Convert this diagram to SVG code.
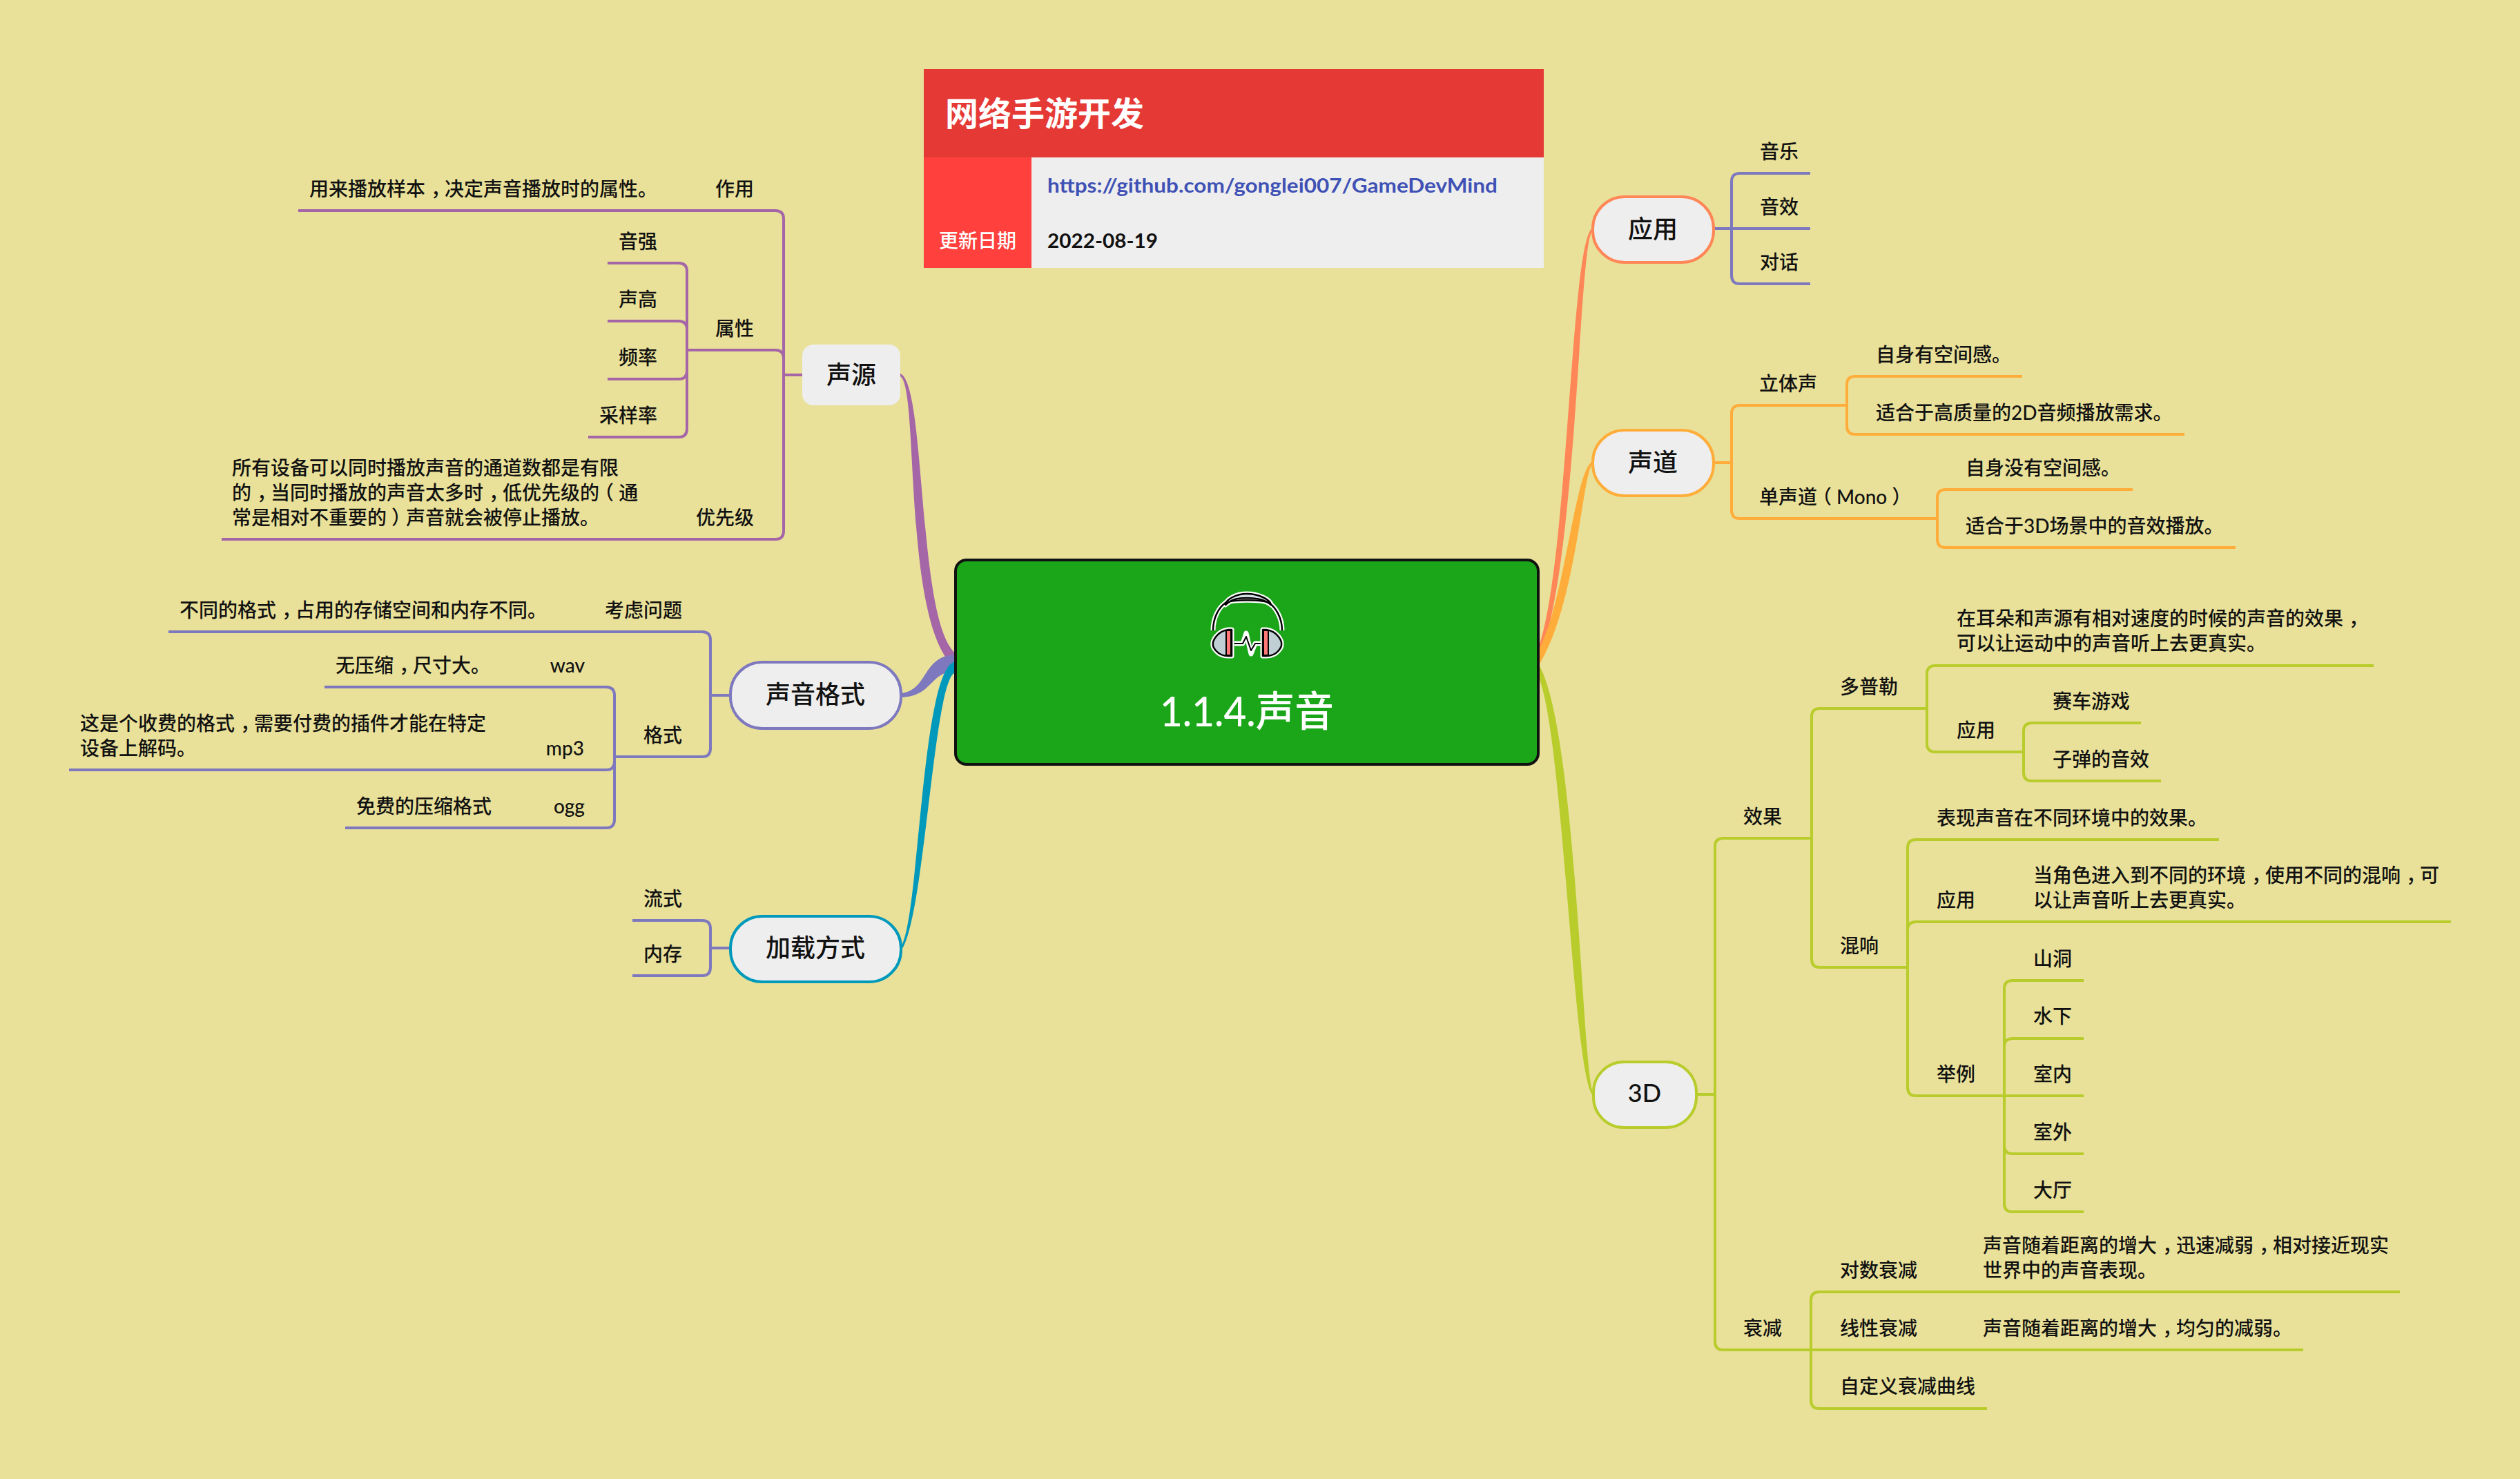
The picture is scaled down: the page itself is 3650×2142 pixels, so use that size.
<svg xmlns="http://www.w3.org/2000/svg" width="3650" height="2142" viewBox="0 0 3650 2142">
<style>
text{font-family:"Lato","Noto Sans CJK SC",sans-serif;fill:#111;font-size:28px;font-weight:500}
.n{font-size:36px;text-anchor:middle}
.r{text-anchor:end}
.w{fill:#fff}
.box{fill:#eee;stroke-width:4}
.l{fill:none;stroke-width:4;stroke-linecap:butt}
.vi{stroke:#7e78bf}.pu{stroke:#a566a8}.am{stroke:#ffad3a}.li{stroke:#b8cc2c}
</style>
<rect width="3650" height="2142" fill="#e9e199"/>
<g id="connectors">
<path fill="#a566a8" d="M1304 541C1342 556 1328 900 1384 946V968C1306 905 1332 562 1304 545Z"/>
<path fill="#7e78bf" d="M1305 1004C1345 1000 1335 950 1384 948V972C1345 974 1352 1008 1305 1010Z"/>
<path fill="#0099bb" d="M1305 1371C1332 1330 1334 966 1384 958V974C1352 980 1340 1330 1305 1377Z"/>
<path fill="#ff8657" d="M2307 330C2274 345 2272 830 2226 944V962C2286 830 2286 345 2307 334Z"/>
<path fill="#ffad3a" d="M2307 668C2280 680 2266 880 2226 946V968C2284 880 2292 680 2307 672Z"/>
<path fill="#b8cc2c" d="M2308 1583C2292 1570 2284 1040 2226 958V976C2264 1040 2278 1570 2308 1587Z"/>
<g class="l pu">
<path d="M432 305H1123Q1135 305 1135 317V769Q1135 781 1123 781H321"/>
<path d="M995 507H1123Q1135 507 1135 519"/>
<path d="M1135 543H1162"/>
<path d="M880 381H983Q995 381 995 393V621Q995 633 983 633H852"/>
<path d="M880 465H983Q995 465 995 477"/>
<path d="M880 549H983Q995 549 995 537"/>
</g>
<g class="l vi">
<path d="M244 915H1017Q1029 915 1029 927V1084Q1029 1096 1017 1096H890"/>
<path d="M1029 1007H1058"/>
<path d="M470 995H878Q890 995 890 1007V1187Q890 1199 878 1199H500"/>
<path d="M100 1115H878Q890 1115 890 1103"/>
<path d="M916 1333H1017Q1029 1333 1029 1345V1401Q1029 1413 1017 1413H916"/>
<path d="M1029 1373H1058"/>
<path d="M2622 251H2520Q2508 251 2508 263V399Q2508 411 2520 411H2622"/>
<path d="M2482 331H2622"/>
</g>
<g class="l am">
<path d="M2482 670H2508"/>
<path d="M2675 587H2520Q2508 587 2508 599V739Q2508 751 2520 751H2806"/>
<path d="M2929 545H2687Q2675 545 2675 557V617Q2675 629 2687 629H3164"/>
<path d="M3089 709H2818Q2806 709 2806 721V781Q2806 793 2818 793H3238"/>
</g>
<g class="l li">
<path d="M2457 1585H2484"/>
<path d="M2624 1214H2496Q2484 1214 2484 1226V1943Q2484 1955 2496 1955H2623"/>
<path d="M2791 1026H2636Q2624 1026 2624 1038V1389Q2624 1401 2636 1401H2763"/>
<path d="M3438 964H2803Q2791 964 2791 976V1077Q2791 1089 2803 1089H2931"/>
<path d="M3101 1047H2943Q2931 1047 2931 1059V1119Q2931 1131 2943 1131H3130"/>
<path d="M3214 1216H2775Q2763 1216 2763 1228V1575Q2763 1587 2775 1587H3018"/>
<path d="M3550 1335H2775Q2763 1335 2763 1347"/>
<path d="M3018 1420H2915Q2903 1420 2903 1432V1743Q2903 1755 2915 1755H3018"/>
<path d="M3018 1504H2915Q2903 1504 2903 1516"/>
<path d="M3018 1671H2915Q2903 1671 2903 1659"/>
<path d="M3476 1871H2635Q2623 1871 2623 1883V2028Q2623 2040 2635 2040H2878"/>
<path d="M2623 1955H3336"/>
</g>
</g>
<g id="header">
<rect x="1338" y="100" width="898" height="128" fill="#e53935"/>
<rect x="1338" y="228" width="156" height="160" fill="#ff403c"/>
<rect x="1494" y="228" width="742" height="160" fill="#eee"/>
<text x="1369" y="182" class="w" style="font-size:48px;font-weight:700">网络手游开发</text>
<text x="1517" y="279" textLength="652" lengthAdjust="spacingAndGlyphs" style="fill:#3f51b5;font-weight:700">https://github.com/gonglei007/GameDevMind</text>
<text x="1360" y="359" class="w">更新日期</text>
<text x="1517" y="359" textLength="160" lengthAdjust="spacingAndGlyphs" style="font-weight:700">2022-08-19</text>
</g>
<g id="root">
<rect x="1384" y="811" width="844" height="296" rx="16" fill="#1ba61a" stroke="#111" stroke-width="4"/>
<g id="root-icon" fill="none" stroke-linejoin="round">
<g stroke="#fff" stroke-width="7">
<path d="M1757 913C1757 895 1765 880 1775 873C1785 868 1827 868 1838 873C1848 880 1857 895 1857 913"/>
<path d="M1775 876C1776 868 1790 860 1806 860C1822 860 1840 868 1841 876C1832 868 1820 866 1806 866C1792 866 1784 868 1775 876Z"/>
<path d="M1784 912H1779C1762 914 1756 930 1757 932C1756 936 1762 950 1779 950H1784Z"/>
<path d="M1829 912H1834C1851 914 1857 930 1856 932C1857 936 1851 950 1834 950H1829Z"/>
<path d="M1788 932H1800L1805 917L1812 947L1818 932H1826"/>
</g>
<path d="M1757 913C1757 895 1765 880 1775 873C1785 868 1827 868 1838 873C1848 880 1857 895 1857 913" stroke="#000" stroke-width="2.5"/>
<path d="M1775 876C1776 868 1790 860 1806 860C1822 860 1840 868 1841 876C1832 868 1820 866 1806 866C1792 866 1784 868 1775 876Z" fill="#dbe6ea" stroke="#000" stroke-width="2.5"/>
<path d="M1784 912H1779C1762 914 1756 930 1757 932C1756 936 1762 950 1779 950H1784Z" fill="#c0cfd4" stroke="#000" stroke-width="2.5"/>
<path d="M1829 912H1834C1851 914 1857 930 1856 932C1857 936 1851 950 1834 950H1829Z" fill="#c0cfd4" stroke="#000" stroke-width="2.5"/>
<rect x="1776" y="913" width="7" height="36" fill="#f77" stroke="#000" stroke-width="2"/>
<rect x="1830" y="913" width="7" height="36" fill="#f77" stroke="#000" stroke-width="2"/>
<path d="M1788 932H1800L1805 922L1812 942L1818 932H1826" stroke="#000" stroke-width="2"/>
</g>
<text x="1680" y="1052" class="w" textLength="252" lengthAdjust="spacingAndGlyphs" style="font-size:60px">1.1.4.声音</text>
</g>
<g id="shengyuan">
<rect x="1162" y="499" width="142" height="88" rx="16" fill="#eee"/>
<text x="1233" y="556" class="n">声源</text>
<g id="zuoyong"><text x="1036" y="284">作用</text><text x="448" y="284">用来播放样本<tspan dx="8">，</tspan><tspan dx="-8">决</tspan>定声音播放时的属性。</text></g>
<g id="shuxing"><text x="1036" y="486">属性</text>
<text x="896" y="360">音强</text><text x="896" y="444">声高</text><text x="896" y="528">频率</text><text x="868" y="612">采样率</text></g>
<g id="youxianji"><text x="1008" y="760">优先级</text>
<text x="336" y="688">所有设备可以同时播放声音的通道数都是有限</text>
<text x="336" y="724">的<tspan dx="8">，</tspan><tspan dx="-8">当</tspan>同时播放的声音太多时<tspan dx="8">，</tspan><tspan dx="-8">低</tspan>优先级的<tspan dx="-7">（</tspan><tspan dx="7">通</tspan></text>
<text x="336" y="760">常是相对不重要的<tspan dx="7">）</tspan><tspan dx="-7">声</tspan>音就会被停止播放。</text></g>
</g>
<g id="geshi">
<rect x="1058" y="959" width="247" height="96" rx="46" class="box vi"/>
<text x="1181" y="1019" class="n">声音格式</text>
<text x="876" y="894">考虑问题</text>
<text x="260" y="894">不同的格式<tspan dx="8">，</tspan><tspan dx="-8">占</tspan>用的存储空间和内存不同。</text>
<text x="932" y="1075">格式</text>
<text x="847" y="974" class="r">wav</text><text x="486" y="974">无压缩<tspan dx="8">，</tspan><tspan dx="-8">尺</tspan>寸大。</text>
<text x="846" y="1094" class="r">mp3</text>
<text x="116" y="1058">这是个收费的格式<tspan dx="8">，</tspan><tspan dx="-8">需</tspan>要付费的插件才能在特定</text>
<text x="116" y="1094">设备上解码。</text>
<text x="847" y="1178" class="r">ogg</text><text x="516" y="1178">免费的压缩格式</text>
</g>
<g id="jiazai">
<rect x="1058" y="1327" width="247" height="95" rx="46" class="box" stroke="#0099bb"/>
<text x="1181" y="1386" class="n">加载方式</text>
<text x="932" y="1312">流式</text><text x="932" y="1392">内存</text>
</g>
<g id="yingyong">
<rect x="2307" y="285" width="175" height="95" rx="46" class="box" stroke="#ff8657"/>
<text x="2394" y="345" class="n">应用</text>
<text x="2549" y="230">音乐</text><text x="2549" y="310">音效</text><text x="2549" y="390">对话</text>
</g>
<g id="shengdao">
<rect x="2307" y="623" width="175" height="95" rx="46" class="box am"/>
<text x="2394" y="683" class="n">声道</text>
<text x="2548" y="566">立体声</text>
<text x="2717" y="524">自身有空间感。</text>
<text x="2717" y="608">适合于高质量的2D音频播放需求。</text>
<text x="2548" y="730">单声道<tspan dx="-7">（</tspan><tspan dx="7">Mono</tspan><tspan dx="7">）</tspan></text>
<text x="2847" y="688">自身没有空间感。</text>
<text x="2847" y="772">适合于3D场景中的音效播放。</text>
</g>
<g id="threed">
<rect x="2308" y="1538" width="149" height="95" rx="44" class="box li"/>
<text x="2382" y="1596" class="n">3D</text>
<text x="2525" y="1193">效果</text>
<text x="2665" y="1005">多普勒</text>
<text x="2834" y="906">在耳朵和声源有相对速度的时候的声音的效果<tspan dx="8">，</tspan></text>
<text x="2834" y="942">可以让运动中的声音听上去更真实。</text>
<text x="2834" y="1068">应用</text>
<text x="2973" y="1026">赛车游戏</text><text x="2973" y="1110">子弹的音效</text>
<text x="2665" y="1380">混响</text>
<text x="2805" y="1195">表现声音在不同环境中的效果。</text>
<text x="2805" y="1314">应用</text>
<text x="2945" y="1278">当角色进入到不同的环境<tspan dx="8">，</tspan><tspan dx="-8">使</tspan>用不同的混响<tspan dx="8">，</tspan><tspan dx="-8">可</tspan></text>
<text x="2945" y="1314">以让声音听上去更真实。</text>
<text x="2805" y="1566">举例</text>
<text x="2945" y="1399">山洞</text><text x="2945" y="1482">水下</text><text x="2945" y="1566">室内</text><text x="2945" y="1650">室外</text><text x="2945" y="1734">大厅</text>
<text x="2525" y="1934">衰减</text>
<text x="2665" y="1850">对数衰减</text>
<text x="2872" y="1814">声音随着距离的增大<tspan dx="8">，</tspan><tspan dx="-8">迅</tspan>速减弱<tspan dx="8">，</tspan><tspan dx="-8">相</tspan>对接近现实</text>
<text x="2872" y="1850">世界中的声音表现。</text>
<text x="2665" y="1934">线性衰减</text>
<text x="2872" y="1934">声音随着距离的增大<tspan dx="8">，</tspan><tspan dx="-8">均</tspan>匀的减弱。</text>
<text x="2665" y="2018">自定义衰减曲线</text>
</g>
</svg>
